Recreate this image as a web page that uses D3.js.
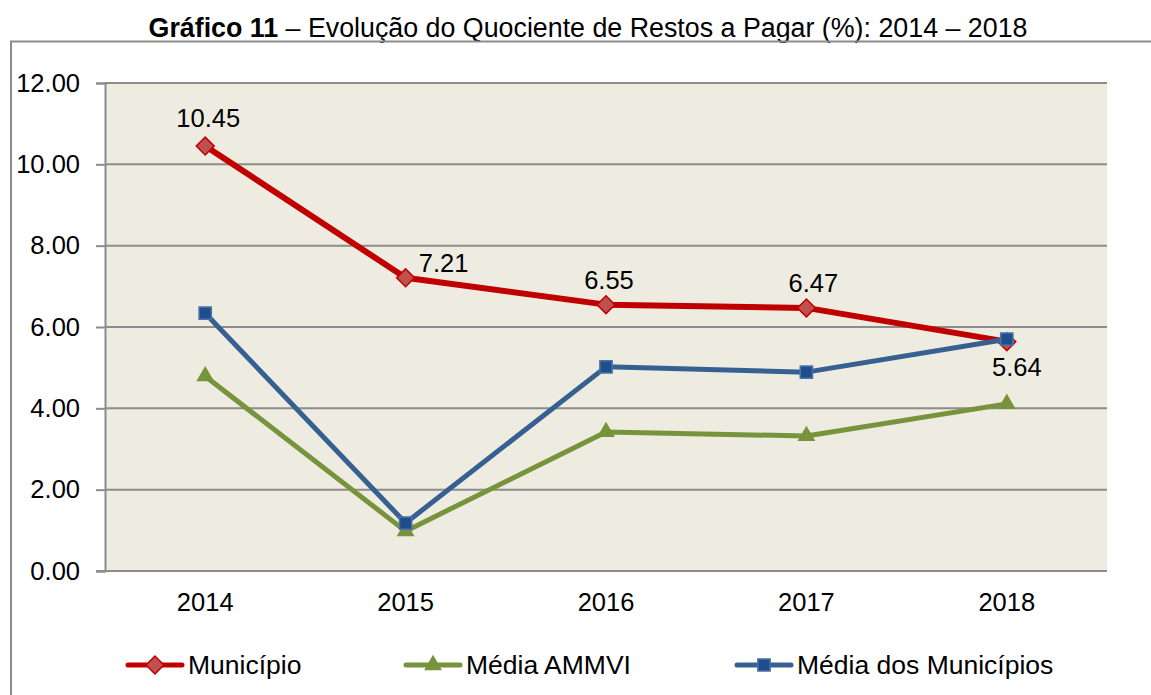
<!DOCTYPE html>
<html>
<head>
<meta charset="utf-8">
<script src="https://d3js.org/d3.v7.min.js"></script>
<style>
  body { margin:0; background:#fff; }
  text { font-family: Arial, "Liberation Sans", sans-serif; fill:#000; }
</style>
</head>
<body>
<script>
var years = ["2014", "2015", "2016", "2017", "2018"];
var municipio = [10.45, 7.21, 6.55, 6.47, 5.64];
var mediaAmmvi = [4.79, 0.98, 3.42, 3.32, 4.11];
var mediaMunicipios = [6.34, 1.18, 5.02, 4.89, 5.70];
var yTicks = [0, 2, 4, 6, 8, 10, 12];

var w = 1151, h = 695;
var plot = {left: 105, right: 1107, top: 83, bottom: 571};

var svg = d3.select("body").append("svg")
    .attr("width", w)
    .attr("height", h);

// title
var title = svg.append("text")
    .attr("x", 588).attr("y", 37)
    .attr("text-anchor", "middle")
    .style("font-size", "26.8px");
title.append("tspan").style("font-weight", "bold").text("Gráfico 11");
title.append("tspan").text(" – Evolução do Quociente de Restos a Pagar (%): 2014 – 2018");

// outer frame (runs off the right and bottom of the picture)
svg.append("rect")
    .attr("x", 11).attr("y", 41.5)
    .attr("width", 1200).attr("height", 700)
    .attr("fill", "none")
    .attr("stroke", "#8c8c8c")
    .attr("stroke-width", 2);

var x = d3.scaleBand()
    .domain(years)
    .range([plot.left, plot.right]);

var y = d3.scaleLinear()
    .domain([0, 12])
    .range([plot.bottom, plot.top]);

var cx = function(d, i) { return x(years[i]) + x.bandwidth() / 2; };

svg.append("rect")
    .attr("x", plot.left).attr("y", plot.top)
    .attr("width", plot.right - plot.left)
    .attr("height", plot.bottom - plot.top)
    .attr("fill", "#eeebe0");

// gridlines
svg.append("g").selectAll("line")
    .data(yTicks.filter(function(d) { return d > 0; }))
    .enter().append("line")
    .attr("x1", plot.left).attr("x2", plot.right)
    .attr("y1", function(d) { return y(d); })
    .attr("y2", function(d) { return y(d); })
    .attr("stroke", "#8c8c8c")
    .attr("stroke-width", 2);

// y axis
var yAxis = d3.axisLeft(y)
    .tickValues(yTicks)
    .tickSize(9)
    .tickPadding(16)
    .tickFormat(d3.format(".2f"));

var gy = svg.append("g")
    .attr("transform", "translate(" + plot.left + ",0)")
    .call(yAxis);
gy.select(".domain").attr("stroke", "#8c8c8c").attr("stroke-width", 2);
gy.selectAll(".tick line").attr("stroke", "#8c8c8c").attr("stroke-width", 2);
gy.selectAll(".tick text").style("font-size", "25.5px").attr("font-family", null);

// x axis
var xAxis = d3.axisBottom(x).tickSize(0).tickPadding(22);
var gx = svg.append("g")
    .attr("transform", "translate(0," + plot.bottom + ")")
    .call(xAxis);
gx.select(".domain").attr("stroke", "#8c8c8c").attr("stroke-width", 2)
    .attr("d", "M" + (plot.left - 9) + ",0H" + plot.right);
gx.selectAll(".tick text").style("font-size", "25.5px").attr("font-family", null);

var series = [
  {name: "Município", values: municipio, line: "#c00000", width: 6, fill: "#c0504d", stroke: "#c00000", marker: "diamond"},
  {name: "Média AMMVI", values: mediaAmmvi, line: "#77933c", width: 5, fill: "#77933c", stroke: "#77933c", marker: "triangle"},
  {name: "Média dos Municípios", values: mediaMunicipios, line: "#376092", width: 5, fill: "#1f4e8c", stroke: "#4a74a8", marker: "square"}
];

var symbols = {
  diamond: d3.symbol().type(d3.symbolSquare).size(160),
  triangle: d3.symbol().type(d3.symbolTriangle).size(100),
  square: d3.symbol().type(d3.symbolSquare).size(150)
};
var rot = {diamond: 45, triangle: 0, square: 0};

var line = d3.line()
    .x(cx)
    .y(function(d) { return y(d); });

series.forEach(function(s) {
  svg.append("path")
      .datum(s.values)
      .attr("d", line)
      .attr("fill", "none")
      .attr("stroke", s.line)
      .attr("stroke-width", s.width)
      .attr("stroke-linejoin", "round");
  svg.append("g").selectAll("path")
      .data(s.values)
      .enter().append("path")
      .attr("d", symbols[s.marker])
      .attr("transform", function(d, i) {
        return "translate(" + cx(d, i) + "," + y(d) + ") rotate(" + rot[s.marker] + ")";
      })
      .attr("fill", s.fill)
      .attr("stroke", s.stroke)
      .attr("stroke-width", 1.5);
});

// data labels for Município
var labelOffsets = [[3, -19], [38, -6], [3, -16], [7, -16], [10, 34]];
svg.append("g").selectAll("text")
    .data(municipio)
    .enter().append("text")
    .attr("x", function(d, i) { return cx(d, i) + labelOffsets[i][0]; })
    .attr("y", function(d, i) { return y(d) + labelOffsets[i][1]; })
    .attr("text-anchor", "middle")
    .style("font-size", "25.5px")
    .text(function(d) { return d.toFixed(2); });

// legend
var legendX = [128, 406, 737];
var lg = svg.append("g").selectAll("g")
    .data(series)
    .enter().append("g")
    .attr("transform", function(d, i) { return "translate(" + legendX[i] + ",665)"; });
lg.append("line")
    .attr("x1", 0).attr("x2", 54)
    .attr("stroke", function(d) { return d.line; })
    .attr("stroke-width", 5)
    .attr("stroke-linecap", "round");
lg.append("path")
    .attr("d", function(d) { return symbols[d.marker](); })
    .attr("transform", function(d) { return "translate(27,0) rotate(" + rot[d.marker] + ")"; })
    .attr("fill", function(d) { return d.fill; })
    .attr("stroke", function(d) { return d.stroke; })
    .attr("stroke-width", 1.5);
lg.append("text")
    .attr("x", 60).attr("y", 9)
    .style("font-size", "26.5px")
    .text(function(d) { return d.name; });
</script>
</body>
</html>
